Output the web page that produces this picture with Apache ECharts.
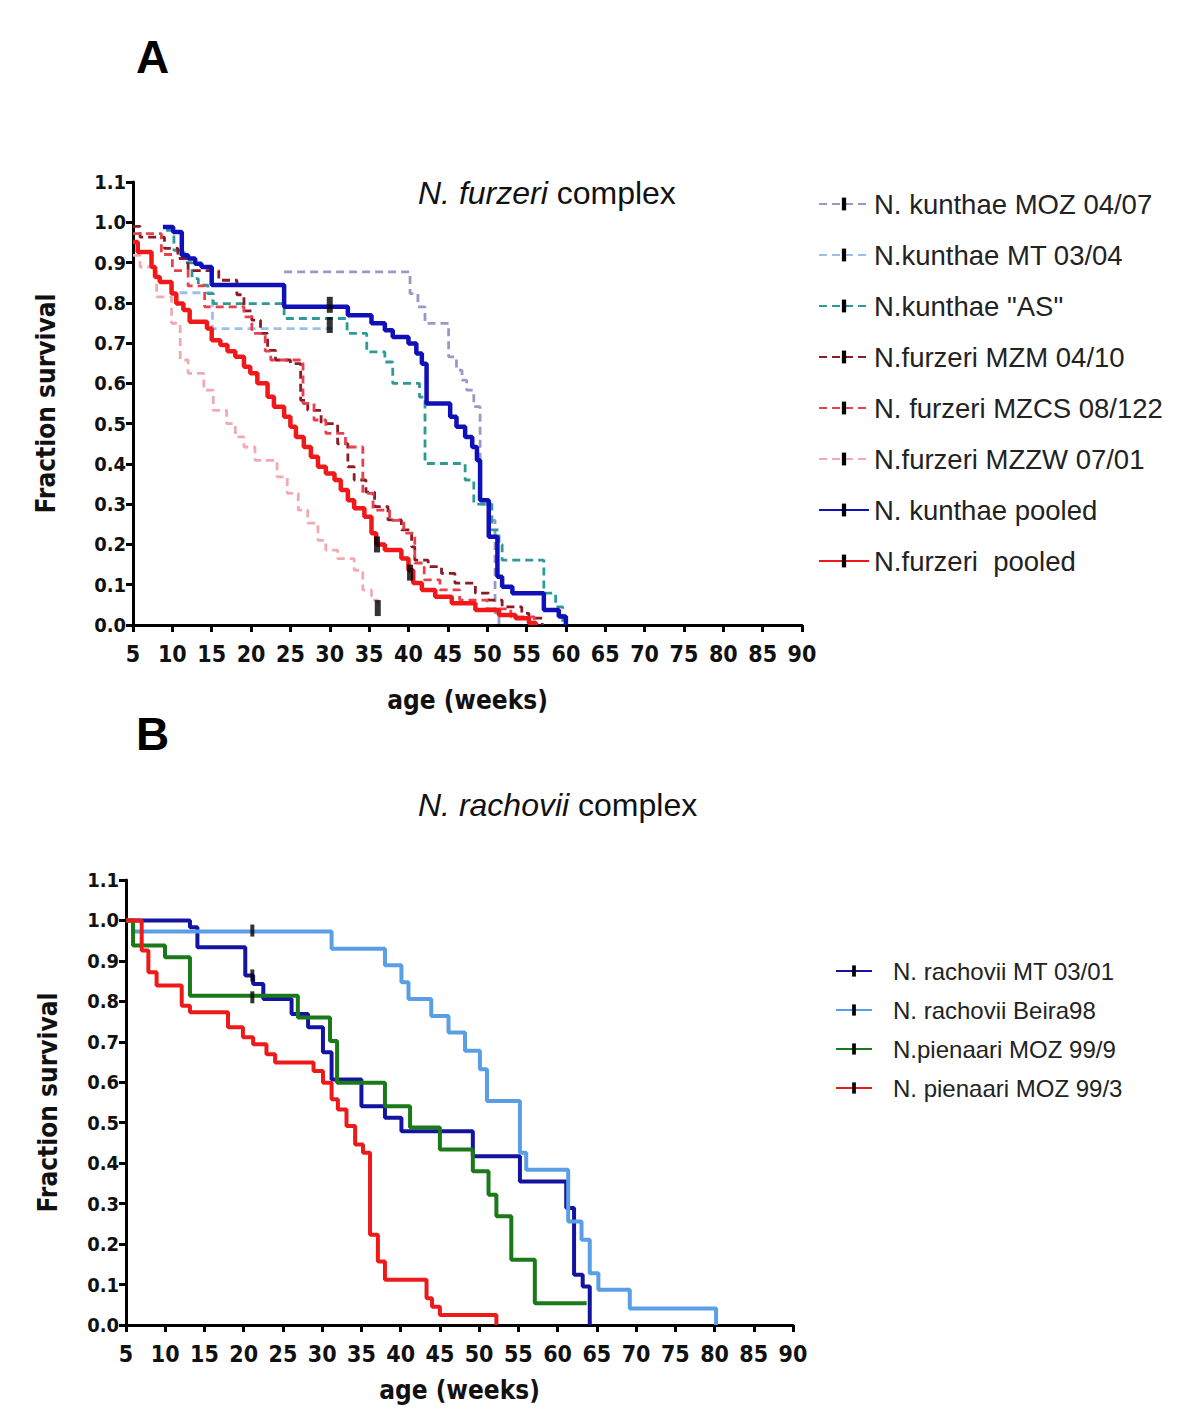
<!DOCTYPE html>
<html><head><meta charset="utf-8">
<script src="https://cdn.jsdelivr.net/npm/echarts@6/dist/echarts.min.js"></script>
<style>html,body{margin:0;padding:0;background:#fff}#c{width:1200px;height:1419px}</style>
</head><body><div id="c"></div>
<script>
// ---------- Panel A: N. furzeri complex (time in weeks, survival fraction) ----------
const xTicks = [5, 90, 5]; // min, max, interval
const kunMozT = [24.2, 40.2, 41.2, 42.1, 45.1, 46.1, 46.8, 47.4, 48.3, 49.1, 50.2, 51.0, 51.5];
const kunMozS = [0.877, 0.823, 0.79, 0.749, 0.666, 0.633, 0.608, 0.583, 0.542, 0.30, 0.26, 0.03, 0];
const kunMtT = [10.9, 15.1, 30.3];
const kunMtS = [0.825, 0.736, 0.736];
const kunAsT = [9.2, 10.2, 11.5, 12.5, 13.3, 14.5, 15.2, 24.2, 32.2, 34.7, 37.0, 38.0, 41.4, 42.1, 47.2, 48.3, 50.6, 51.5, 51.9, 57.2, 58.7, 59.6];
const kunAsS = [0.98, 0.93, 0.90, 0.86, 0.844, 0.823, 0.798, 0.761, 0.724, 0.678, 0.653, 0.600, 0.566, 0.401, 0.36, 0.30, 0.236, 0.20, 0.161, 0.079, 0.045, 0];
const furMzmT = [5.0, 5.9, 9.0, 10.7, 12.0, 15.9, 18.2, 19.1, 20.1, 21.2, 22.1, 23.1, 25.0, 26.3, 27.2, 28.9, 31.0, 32.3, 33.1, 34.6, 35.7, 37.4, 39.1, 40.4, 40.8, 42.5, 44.2, 45.9, 48.5, 50.2, 51.9, 54.4, 55.3, 57.0];
const furMzmS = [0.99, 0.963, 0.935, 0.91, 0.88, 0.856, 0.82, 0.78, 0.757, 0.724, 0.682, 0.658, 0.649, 0.558, 0.533, 0.50, 0.45, 0.393, 0.36, 0.33, 0.294, 0.261, 0.236, 0.194, 0.161, 0.145, 0.128, 0.104, 0.079, 0.062, 0.045, 0.029, 0.017, 0];
const furMzcsT = [5.0, 8.6, 10.0, 12.0, 14.1, 19.1, 20.1, 21.8, 22.5, 26.6, 28.0, 29.5, 32.0, 34.2, 35.5, 37.6, 39.4, 40.8, 42.0, 44.0, 46.5, 50.0, 53.0, 56.0];
const furMzcsS = [0.972, 0.92, 0.88, 0.842, 0.79, 0.765, 0.724, 0.68, 0.658, 0.55, 0.509, 0.476, 0.442, 0.327, 0.285, 0.26, 0.228, 0.154, 0.112, 0.087, 0.062, 0.04, 0.02, 0];
const furMzzwT = [5.0, 5.9, 8.0, 9.9, 11.0, 12.0, 14.0, 15.2, 16.9, 18.0, 19.1, 20.5, 23.3, 24.6, 26.0, 27.2, 28.5, 29.5, 31.0, 33.1, 34.2, 35.3, 36.1];
const furMzzwS = [0.918, 0.889, 0.815, 0.749, 0.658, 0.625, 0.583, 0.533, 0.50, 0.467, 0.442, 0.409, 0.368, 0.327, 0.285, 0.253, 0.21, 0.186, 0.165, 0.136, 0.087, 0.062, 0.042];
const kunPoolT = [8.8, 10.1, 11.2, 12.0, 12.9, 13.7, 15.0, 24.2, 32.3, 35.3, 37.0, 38.0, 40.0, 41.0, 41.7, 42.3, 45.3, 46.1, 47.2, 48.1, 48.7, 49.1, 50.2, 51.3, 51.9, 53.2, 57.2, 59.1, 60.0];
const kunPoolS = [0.988, 0.976, 0.918, 0.910, 0.897, 0.889, 0.844, 0.790, 0.769, 0.749, 0.732, 0.715, 0.699, 0.674, 0.649, 0.550, 0.517, 0.492, 0.467, 0.442, 0.409, 0.310, 0.219, 0.120, 0.095, 0.079, 0.037, 0.021, 0];
const furPoolT = [5.0, 5.6, 7.35, 7.8, 8.4, 9.9, 10.5, 11.4, 12.2, 14.4, 15.0, 16.1, 17.0, 18.0, 19.1, 19.9, 20.8, 22.1, 22.9, 24.2, 25.0, 25.7, 26.7, 27.6, 28.5, 29.5, 30.6, 31.4, 32.3, 33.1, 34.4, 35.3, 35.9, 37.0, 39.1, 40.0, 40.6, 41.7, 43.4, 45.5, 48.5, 51.5, 53.6, 55.3, 56.2];
const furPoolS = [0.951, 0.926, 0.889, 0.864, 0.852, 0.823, 0.798, 0.782, 0.753, 0.736, 0.707, 0.695, 0.68, 0.666, 0.641, 0.625, 0.60, 0.567, 0.542, 0.517, 0.492, 0.467, 0.442, 0.418, 0.393, 0.376, 0.36, 0.335, 0.31, 0.29, 0.269, 0.228, 0.20, 0.186, 0.165, 0.136, 0.104, 0.087, 0.070, 0.054, 0.037, 0.025, 0.017, 0.005, 0];
const censorAT = [30.0, 30.0, 36.0, 40.2, 36.1];
const censorAS = [0.795, 0.745, 0.20, 0.13, 0.042];

// ---------- Panel B: N. rachovii complex ----------
const racMtT = [5.0, 13.15, 14.1, 20.2, 21.2, 22.5, 26.1, 28.2, 30.1, 31.2, 35.0, 38.0, 40.1, 49.2, 55.2, 61.1, 62.1, 63.2, 64.1];
const racMtS = [1.0, 0.983, 0.934, 0.864, 0.843, 0.806, 0.769, 0.736, 0.674, 0.607, 0.541, 0.512, 0.479, 0.417, 0.355, 0.289, 0.124, 0.095, 0];
const racBeT = [5.0, 5.9, 31.2, 38.0, 40.1, 41.0, 43.9, 46.1, 48.2, 50.1, 51.0, 55.2, 56.0, 61.35, 63.05, 64.1, 65.2, 69.2, 80.2];
const racBeS = [1.0, 0.973, 0.930, 0.889, 0.847, 0.806, 0.764, 0.723, 0.678, 0.632, 0.554, 0.426, 0.384, 0.256, 0.211, 0.128, 0.087, 0.041, 0];
const pie9T = [5.0, 5.9, 9.97, 13.15, 26.9, 31.0, 31.9, 38.0, 41.2, 45.0, 49.2, 51.2, 52.2, 54.1, 57.1, 63.7];
const pie9S = [1.0, 0.938, 0.909, 0.814, 0.760, 0.702, 0.599, 0.541, 0.488, 0.434, 0.380, 0.322, 0.269, 0.161, 0.054, 0.054];
const pie3T = [5.0, 7.0, 7.85, 8.9, 12.1, 13.15, 18.0, 19.9, 21.2, 22.9, 24.0, 28.9, 30.1, 31.2, 32.0, 33.1, 34.2, 35.2, 36.1, 37.1, 38.0, 43.3, 44.0, 45.0, 52.2];
const pie3S = [1.0, 0.926, 0.872, 0.839, 0.789, 0.773, 0.736, 0.711, 0.694, 0.669, 0.649, 0.628, 0.599, 0.558, 0.533, 0.492, 0.446, 0.426, 0.223, 0.157, 0.112, 0.066, 0.045, 0.025, 0];
const censorBT = [21.1, 21.1, 21.1];
const censorBS = [0.975, 0.864, 0.81];

const yTickLabels = ['0.0','0.1','0.2','0.3','0.4','0.5','0.6','0.7','0.8','0.9','1.0','1.1'];

// ---------------------------------------------------------------
const zip = (t, s) => t.map((v, i) => [v, s[i]]);
const BAR = 'path://M0,0M12,12M4,0L8,0L8,12L4,12Z';
const narrow = "'Liberation Sans Narrow','Arial Narrow','DejaVu Sans Condensed',Arial,sans-serif";
const sans = "'Liberation Sans',Arial,Helvetica,sans-serif";

function km(name, t, s, color, width, dashed, gi) {
  return {
    name, type: 'line', step: 'end', xAxisIndex: gi, yAxisIndex: gi,
    data: zip(t, s), showSymbol: false, symbol: BAR, symbolSize: [4, 12],
    itemStyle: { color: '#000' },
    lineStyle: { color, width, type: dashed ? [8, 5] : 'solid' },
    z: dashed ? 2 : 3, silent: true, animation: false
  };
}
function censor(t, s, gi, size) {
  return {
    type: 'scatter', xAxisIndex: gi, yAxisIndex: gi, data: zip(t, s),
    symbol: 'rect', symbolSize: size, itemStyle: { color: '#000' }, z: 5, silent: true
  };
}
function xAx(gi, gap) {
  return {
    type: 'value', gridIndex: gi, min: xTicks[0], max: xTicks[1], interval: xTicks[2],
    name: 'age (weeks)', nameLocation: 'middle', nameGap: gap,
    nameTextStyle: { fontFamily: narrow, fontWeight: 'bold', fontSize: 26, color: '#111' },
    axisLine: { lineStyle: { color: '#000', width: 3 } },
    axisTick: { show: true, inside: false, length: 7, lineStyle: { color: '#000', width: 3 } },
    axisLabel: { fontFamily: narrow, fontWeight: 'bold', fontSize: 23, color: '#111', margin: 17 },
    splitLine: { show: false }
  };
}
function yAx(gi, gap) {
  return {
    type: 'value', gridIndex: gi, min: 0, max: 1.1, interval: 0.1,
    name: 'Fraction survival', nameLocation: 'middle', nameGap: gap,
    nameTextStyle: { fontFamily: narrow, fontWeight: 'bold', fontSize: 26, color: '#111' },
    axisLine: { show: true, lineStyle: { color: '#000', width: 3 } },
    axisTick: { show: true, inside: false, length: 7, lineStyle: { color: '#000', width: 3 } },
    axisLabel: { fontFamily: narrow, fontWeight: 'bold', fontSize: 20, color: '#111', margin: 7,
      formatter: v => yTickLabels[Math.round(v * 10)] },
    splitLine: { show: false }
  };
}

const namesA = ['N. kunthae MOZ 04/07', 'N.kunthae MT 03/04', 'N.kunthae "AS"', 'N.furzeri MZM 04/10',
  'N. furzeri MZCS 08/122', 'N.furzeri MZZW 07/01', 'N. kunthae pooled', 'N.furzeri  pooled'];
const namesB = ['N. rachovii MT 03/01', 'N. rachovii Beira98', 'N.pienaari MOZ 99/9', 'N. pienaari MOZ 99/3'];

const chart = echarts.init(document.getElementById('c'), null, { renderer: 'svg', width: 1200, height: 1419 });
chart.setOption({
  backgroundColor: '#fff',
  animation: false,
  title: [
    { text: 'A', left: 136, top: 34, padding: 0, textStyle: { fontFamily: sans, fontWeight: 'bold', fontSize: 46, color: '#000' } },
    { text: '{i|N. furzeri} complex', left: 418, top: 177, padding: 0,
      textStyle: { fontFamily: sans, fontWeight: 'normal', fontSize: 32, color: '#111',
        rich: { i: { fontFamily: sans, fontStyle: 'italic', fontSize: 32, color: '#111' } } } },
    { text: 'B', left: 136, top: 711, padding: 0, textStyle: { fontFamily: sans, fontWeight: 'bold', fontSize: 46, color: '#000' } },
    { text: '{i|N. rachovii} complex', left: 418, top: 789, padding: 0,
      textStyle: { fontFamily: sans, fontWeight: 'normal', fontSize: 32, color: '#111',
        rich: { i: { fontFamily: sans, fontStyle: 'italic', fontSize: 32, color: '#111' } } } }
  ],
  grid: [
    { left: 133, top: 182, width: 669, height: 443, containLabel: false },
    { left: 126, top: 880, width: 667, height: 445, containLabel: false }
  ],
  xAxis: [xAx(0, 62), xAx(1, 52)],
  yAxis: [yAx(0, 74), yAx(1, 65)],
  legend: [
    { data: namesA, orient: 'vertical', left: 818, top: 189, padding: 0,
      itemWidth: 50, itemHeight: 16, itemGap: 21, selectedMode: false,
      textStyle: { fontFamily: sans, fontSize: 27.5, color: '#222', lineHeight: 30, padding: [0, 0, 0, 0] } },
    { data: namesB, orient: 'vertical', left: 835, top: 957, padding: 0,
      itemWidth: 36, itemHeight: 14, itemGap: 11, selectedMode: false,
      textStyle: { fontFamily: sans, fontSize: 24, color: '#222', lineHeight: 28, padding: [0, 0, 0, 16] } }
  ],
  series: [
    km(namesA[0], kunMozT, kunMozS, '#9a98c8', 2.8, true, 0),
    km(namesA[1], kunMtT, kunMtS, '#9cc0ea', 2.8, true, 0),
    km(namesA[2], kunAsT, kunAsS, '#2e9a98', 2.8, true, 0),
    km(namesA[3], furMzmT, furMzmS, '#8a1c24', 2.8, true, 0),
    km(namesA[4], furMzcsT, furMzcsS, '#e8404e', 2.8, true, 0),
    km(namesA[5], furMzzwT, furMzzwS, '#f2aab2', 2.8, true, 0),
    km(namesA[6], kunPoolT, kunPoolS, '#1010b8', 4.5, false, 0),
    km(namesA[7], furPoolT, furPoolS, '#f01818', 4.5, false, 0),
    censor(censorAT, censorAS, 0, [6, 16]),
    km(namesB[0], racMtT, racMtS, '#1414a0', 4, false, 1),
    km(namesB[1], racBeT, racBeS, '#5a9ee6', 4, false, 1),
    km(namesB[2], pie9T, pie9S, '#1a7a1a', 4, false, 1),
    km(namesB[3], pie3T, pie3S, '#ee1a1a', 4, false, 1),
    censor(censorBT, censorBS, 1, [4, 12])
  ]
});
</script></body></html>
